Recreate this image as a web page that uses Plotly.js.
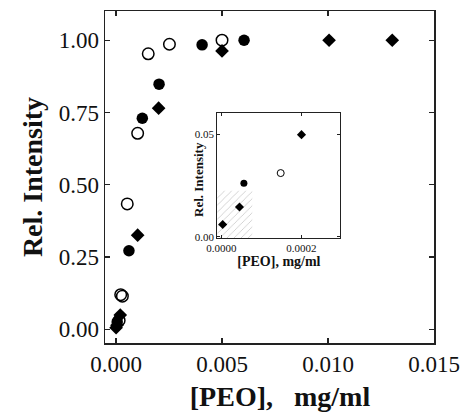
<!DOCTYPE html>
<html>
<head>
<meta charset="utf-8">
<script src="https://cdn.plot.ly/plotly-3.0.1.min.js"></script>
<style>html,body{margin:0;padding:0;background:#fff;}#chart{width:461px;height:412px;}</style>
</head>
<body>
<div id="chart"></div>
<script>
// Open circles
const openX = [0.000148, 0.00022, 0.00030, 0.00053, 0.00102, 0.00152, 0.00252, 0.005];
const openY = [0.031, 0.12, 0.115, 0.434, 0.678, 0.953, 0.986, 1.00];
// Filled circles
const fillX = [0.000056, 0.00061, 0.00124, 0.00203, 0.00406, 0.00604];
const fillY = [0.026, 0.272, 0.730, 0.848, 0.984, 1.00];
// Filled diamonds
const diaX = [0.000003, 0.000045, 0.0002, 0.00102, 0.00201, 0.005, 0.01005, 0.01303];
const diaY = [0.006, 0.0145, 0.0497, 0.326, 0.765, 0.963, 1.00, 1.00];
// Shaded region in inset
const shadeX = [-0.00002, 0.000077, 0.000077, -0.00002, -0.00002];
const shadeY = [-0.001, -0.001, 0.0224, 0.0224, -0.001];

const xTicks = [0, 0.005, 0.010, 0.015];
const yTicks = [0, 0.25, 0.50, 0.75, 1.00];
const insetXTicks = [0, 0.0002];
const insetYTicks = [0, 0.05];

const serif = 'Liberation Serif, Times New Roman, serif';
const traces = [];
function addSet(xa, ya, sz, lw) {
  traces.push({x: openX, y: openY, xaxis: xa, yaxis: ya, type: 'scatter', mode: 'markers',
    marker: {symbol: 'circle-open', size: sz.c, color: '#000', line: {width: lw, color: '#000'}}});
  traces.push({x: fillX, y: fillY, xaxis: xa, yaxis: ya, type: 'scatter', mode: 'markers',
    marker: {symbol: 'circle', size: sz.c, color: '#000'}});
  traces.push({x: diaX, y: diaY, xaxis: xa, yaxis: ya, type: 'scatter', mode: 'markers',
    marker: {symbol: 'diamond', size: sz.d, color: '#000'}});
}
// inset shade
traces.push({x: shadeX, y: shadeY, xaxis: 'x2', yaxis: 'y2', type: 'scatter', mode: 'none',
  fill: 'toself', fillcolor: 'rgba(0,0,0,0)',
  fillpattern: {shape: '/', fgcolor: '#aaa', bgcolor: 'rgba(255,255,255,0)', size: 5, solidity: 0.1}, hoverinfo: 'skip'});
addSet('x', 'y', {c: 11.5, d: 10.5}, 1.5);
addSet('x2', 'y2', {c: 7, d: 7}, 1);

const axisCommon = {showline: true, linecolor: '#222', linewidth: 1.5, mirror: 'ticks', ticks: 'inside',
  ticklen: 5, tickcolor: '#222', tickwidth: 1.3, showgrid: false, zeroline: false};

const layout = {
  width: 461, height: 412,
  margin: {l: 105, r: 27, t: 11, b: 69},
  paper_bgcolor: '#fff', plot_bgcolor: '#fff',
  showlegend: false,
  xaxis: Object.assign({}, axisCommon, {
    range: [-0.00052, 0.015], tickvals: xTicks, tickformat: '.3f',
    tickfont: {family: serif, size: 23, color: '#111'},
    title: {text: '<b>&nbsp;&nbsp;&nbsp;[PEO],&nbsp;&nbsp;&nbsp;mg/ml</b>', font: {family: serif, size: 28, color: '#111'}, standoff: 11}
  }),
  yaxis: Object.assign({}, axisCommon, {
    range: [-0.047, 1.101], tickvals: yTicks, tickformat: '.2f',
    tickfont: {family: serif, size: 23, color: '#111'},
    title: {text: '<b>Rel. Intensity</b>', font: {family: serif, size: 28, color: '#111'}, standoff: 8}
  }),
  xaxis2: Object.assign({}, axisCommon, {
    domain: [0.3413, 0.7158], anchor: 'y2', linewidth: 1, ticklen: 3, tickwidth: 1,
    range: [-0.0000105, 0.0002975], tickvals: insetXTicks, tickformat: '.4f',
    tickfont: {family: serif, size: 11, color: '#111'},
    title: {text: '<b>[PEO], mg/ml</b>', font: {family: serif, size: 14, color: '#111'}, standoff: 1}
  }),
  yaxis2: Object.assign({}, axisCommon, {
    domain: [0.3163, 0.6919], anchor: 'x2', linewidth: 1, ticklen: 3, tickwidth: 1,
    range: [-0.0006, 0.0601], tickvals: insetYTicks, tickformat: '.2f',
    tickfont: {family: serif, size: 11, color: '#111'}
  }),
  annotations: [{text: '<b>Rel. Intensity</b>', xref: 'paper', yref: 'paper', x: 0.2857, y: 0.494,
    xanchor: 'center', yanchor: 'middle', textangle: -90, showarrow: false,
    font: {family: serif, size: 13, color: '#111'}}],
  shapes: [{type: 'rect', xref: 'x2 domain', yref: 'y2 domain', x0: 0, x1: 1, y0: 0, y1: 1,
    fillcolor: '#fff', line: {width: 0}, layer: 'below'}]
};
Plotly.newPlot('chart', traces, layout, {displayModeBar: false, staticPlot: true});
</script>
</body>
</html>
